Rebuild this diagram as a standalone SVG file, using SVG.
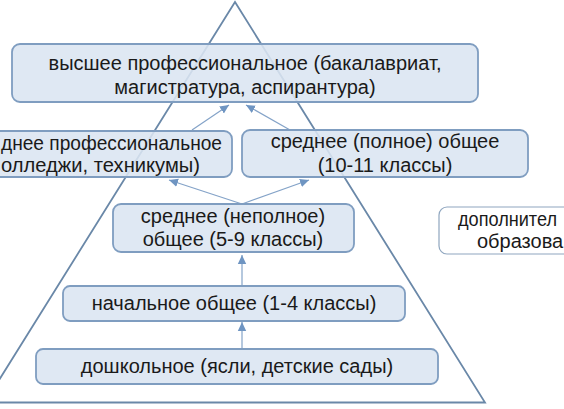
<svg xmlns="http://www.w3.org/2000/svg" width="564" height="409" viewBox="0 0 564 409">
<style>
.box{fill:#dbe5f1;fill-opacity:0.88;stroke:#7f9dc0;stroke-width:1.8}
.wbox{fill:#ffffff;stroke:#8fa6bf;stroke-width:1.2}
.tri{fill:none;stroke:#6a88a8;stroke-width:1.8}
.t{font-family:"Liberation Sans",Arial,sans-serif;font-size:20px;fill:#1a1a1a;text-anchor:middle}
.conn line{stroke:#84a3c8;stroke-width:1.2}
</style>
<defs>
<marker id="ah" markerWidth="10" markerHeight="10" refX="9" refY="5" orient="auto" markerUnits="userSpaceOnUse">
<path d="M0,0.8 L9,5 L0,9.2 Z" fill="#6f95c2"/>
</marker>
</defs>
<rect width="564" height="409" fill="#ffffff"/>
<g id="pyramid">
<polygon class="tri" points="235,2 -15,402.5 485,402.5"/>
</g>
<g id="connectors" class="conn">
<line x1="192" y1="130" x2="229" y2="105" marker-end="url(#ah)"/>
<line x1="290" y1="130" x2="246" y2="105" marker-end="url(#ah)"/>
<line x1="242" y1="204" x2="169" y2="180" marker-end="url(#ah)"/>
<line x1="242" y1="204" x2="309" y2="180" marker-end="url(#ah)"/>
<line x1="242" y1="286" x2="242" y2="255" marker-end="url(#ah)"/>
<line x1="242" y1="349" x2="242" y2="322" marker-end="url(#ah)"/>
</g>
<g id="higher">
<rect class="box" x="12" y="44" width="466" height="58" rx="8"/>
<text class="t" x="245" y="70">высшее профессиональное (бакалавриат,</text>
<text class="t" x="245" y="94">магистратура, аспирантура)</text>
</g>
<g id="secondary-prof">
<rect class="box" x="-20" y="131" width="252" height="46" rx="8"/>
<text class="t" x="1" y="150" style="text-anchor:start" textLength="221" lengthAdjust="spacingAndGlyphs">днее профессиональное</text>
<text class="t" x="1" y="172" style="text-anchor:start" textLength="199" lengthAdjust="spacingAndGlyphs">олледжи, техникумы)</text>
</g>
<g id="secondary-full">
<rect class="box" x="242" y="130" width="286" height="47" rx="8"/>
<text class="t" x="385" y="148">среднее (полное) общее</text>
<text class="t" x="385" y="172">(10-11 классы)</text>
</g>
<g id="secondary-basic">
<rect class="box" x="113" y="204" width="241" height="48" rx="8"/>
<text class="t" x="233" y="223">среднее (неполное)</text>
<text class="t" x="233" y="246">общее (5-9 классы)</text>
</g>
<g id="primary">
<rect class="box" x="63" y="286" width="342" height="35" rx="7"/>
<text class="t" x="234" y="310">начальное общее (1-4 классы)</text>
</g>
<g id="preschool">
<rect class="box" x="36" y="349" width="402" height="35" rx="7"/>
<text class="t" x="237" y="373">дошкольное (ясли, детские сады)</text>
</g>
<g id="additional">
<rect class="wbox" x="439" y="207" width="150" height="47" rx="8"/>
<text class="t" x="458" y="226" style="text-anchor:start" textLength="99" lengthAdjust="spacingAndGlyphs">дополнител</text>
<text class="t" x="477" y="248" style="text-anchor:start">образова</text>
</g>
</svg>
